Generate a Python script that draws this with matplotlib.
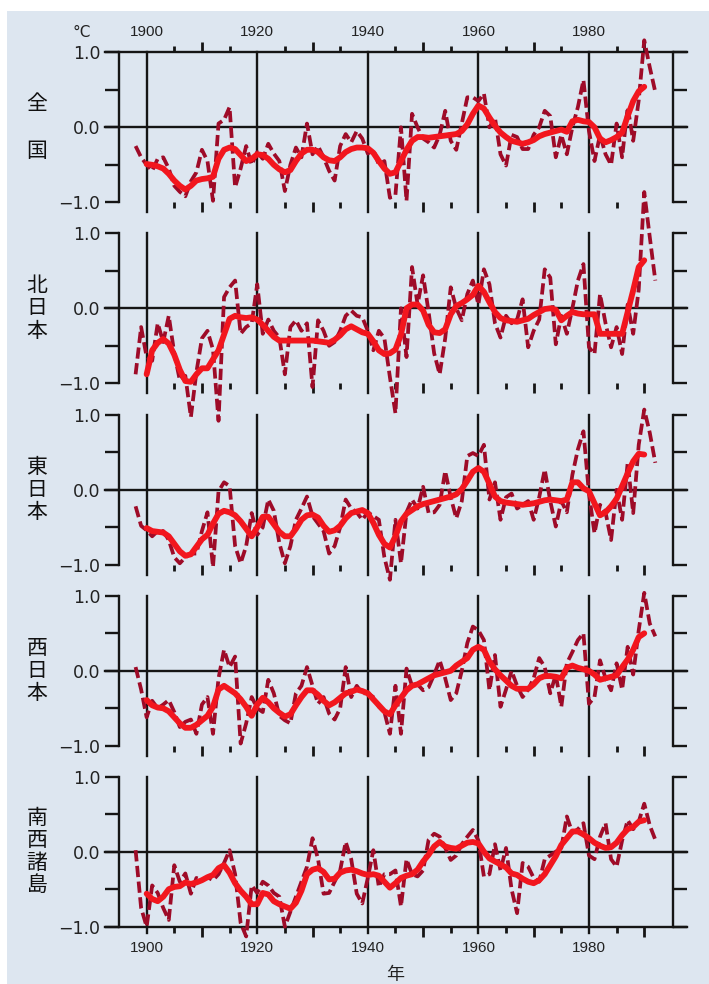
import numpy as np
import matplotlib
matplotlib.use("Agg")
import matplotlib.pyplot as plt
from matplotlib.patches import Rectangle
from matplotlib.ticker import FixedLocator, NullFormatter

# years
years_annual = np.arange(1898, 1993)
years_smooth = np.arange(1900, 1991)

# 全国
zenkoku_annual = [-0.25, -0.40, -0.50, -0.58, -0.42, -0.40, -0.55, -0.78, -0.86, -0.92,
                  -0.72, -0.60, -0.30, -0.45, -0.98, 0.05, 0.10, 0.27, -0.80, -0.55,
                  -0.25, -0.50, -0.33, -0.42, -0.22, -0.35, -0.45, -0.85, -0.50, -0.27,
                  -0.40, 0.05, -0.36, -0.25, -0.40, -0.58, -0.71, -0.25, -0.09, -0.20,
                  -0.05, -0.15, -0.35, -0.30, -0.50, -0.45, -0.94, -0.90, 0.00, -0.98,
                  0.18, 0.00, -0.15, -0.20, -0.27, -0.10, 0.22, -0.18, -0.30, 0.05,
                  0.40, 0.40, 0.35, 0.45, 0.00, 0.13, -0.36, -0.51, -0.10, -0.13,
                  -0.29, -0.29, -0.10, 0.00, 0.22, 0.15, -0.40, -0.10, -0.36, 0.00,
                  0.27, 0.63, -0.05, -0.45, -0.10, -0.36, -0.50, 0.05, -0.40, 0.27,
                  -0.18, 0.36, 1.16, 0.80, 0.47]
zenkoku_smooth = [-0.49, -0.50, -0.52, -0.55, -0.62, -0.71, -0.78, -0.83, -0.78, -0.71,
                  -0.69, -0.68, -0.66, -0.42, -0.30, -0.27, -0.29, -0.37, -0.45, -0.42,
                  -0.36, -0.37, -0.42, -0.50, -0.56, -0.60, -0.57, -0.45, -0.35, -0.30,
                  -0.30, -0.33, -0.40, -0.44, -0.45, -0.40, -0.33, -0.29, -0.27, -0.27,
                  -0.28, -0.34, -0.45, -0.55, -0.62, -0.60, -0.45, -0.30, -0.18, -0.13,
                  -0.13, -0.14, -0.13, -0.12, -0.11, -0.10, -0.09, -0.05, 0.04, 0.18,
                  0.29, 0.25, 0.13, 0.02, -0.07, -0.13, -0.18, -0.20, -0.22, -0.20,
                  -0.17, -0.12, -0.09, -0.07, -0.05, -0.03, -0.06, 0.08, 0.10, 0.08,
                  0.07, 0.00, -0.15, -0.20, -0.17, -0.13, -0.07, 0.15, 0.35, 0.48,
                  0.54]

# 北日本
kita_annual = [-0.88, -0.25, -0.65, -0.70, -0.20, -0.45, -0.10, -0.60, -0.96, -0.90,
               -1.45, -0.85, -0.40, -0.30, -0.55, -1.50, 0.15, 0.28, 0.37, -0.34,
               -0.25, -0.20, 0.32, -0.34, -0.15, -0.30, -0.39, -0.88, -0.25, -0.16,
               -0.30, -0.20, -1.05, -0.16, -0.30, -0.50, -0.45, -0.30, -0.10, -0.03,
               -0.10, -0.12, -0.30, -0.56, -0.30, -0.40, -0.92, -1.40, 0.00, -0.65,
               0.55, 0.05, 0.44, -0.05, -0.60, -0.88, -0.40, 0.28, 0.00, -0.16,
               0.19, 0.37, 0.05, 0.52, 0.32, -0.20, -0.39, -0.10, -0.20, -0.15,
               0.12, -0.52, -0.30, -0.15, 0.52, 0.41, -0.48, -0.10, -0.34, 0.00,
               0.37, 0.59, -0.52, -0.61, 0.19, -0.20, -0.52, -0.25, -0.61, 0.05,
               -0.34, 0.25, 1.55, 0.95, 0.37]
kita_smooth = [-0.88, -0.56, -0.46, -0.41, -0.47, -0.62, -0.82, -0.97, -0.98, -0.88,
               -0.80, -0.80, -0.68, -0.56, -0.35, -0.14, -0.10, -0.12, -0.13, -0.12,
               -0.15, -0.22, -0.30, -0.38, -0.43, -0.43, -0.43, -0.43, -0.43, -0.43,
               -0.43, -0.44, -0.45, -0.46, -0.42, -0.36, -0.28, -0.24, -0.28, -0.32,
               -0.34, -0.44, -0.56, -0.61, -0.60, -0.55, -0.35, 0.00, 0.05, 0.05,
               -0.03, -0.22, -0.32, -0.33, -0.28, -0.08, 0.03, 0.07, 0.12, 0.18,
               0.30, 0.22, 0.08, -0.05, -0.13, -0.16, -0.17, -0.18, -0.16, -0.14,
               -0.09, -0.05, -0.01, 0.00, -0.02, -0.16, -0.10, -0.05, -0.07, -0.08,
               -0.08, -0.08, -0.34, -0.34, -0.34, -0.34, -0.34, -0.05, 0.24, 0.55,
               0.64]

# 東日本
higashi_annual = [-0.22, -0.48, -0.54, -0.62, -0.55, -0.55, -0.67, -0.90, -0.98, -0.90,
                  -0.85, -0.85, -0.55, -0.30, -1.03, -0.02, 0.10, 0.05, -0.75, -0.98,
                  -0.75, -0.31, -0.60, -0.50, -0.13, -0.28, -0.71, -0.98, -0.75, -0.40,
                  -0.25, -0.09, -0.35, -0.45, -0.55, -0.85, -0.75, -0.50, -0.13, -0.25,
                  -0.30, -0.40, -0.30, -0.35, -0.40, -0.90, -1.20, -0.40, -0.98, -0.30,
                  -0.13, -0.25, 0.04, -0.31, -0.30, -0.20, 0.25, -0.10, -0.38, -0.15,
                  0.45, 0.49, 0.45, 0.60, -0.13, 0.10, -0.40, -0.10, -0.05, -0.25,
                  -0.20, -0.15, -0.40, -0.10, 0.27, -0.15, -0.49, -0.15, -0.30, 0.20,
                  0.54, 0.78, -0.05, -0.58, -0.20, -0.30, -0.67, 0.00, -0.40, 0.36,
                  -0.31, 0.60, 1.07, 0.76, 0.36]
higashi_smooth = [-0.51, -0.55, -0.56, -0.57, -0.62, -0.72, -0.82, -0.88, -0.86, -0.76,
                  -0.66, -0.60, -0.45, -0.32, -0.28, -0.30, -0.34, -0.42, -0.52, -0.62,
                  -0.50, -0.36, -0.36, -0.46, -0.56, -0.62, -0.62, -0.52, -0.40, -0.34,
                  -0.33, -0.37, -0.48, -0.56, -0.54, -0.48, -0.38, -0.31, -0.29, -0.27,
                  -0.31, -0.44, -0.60, -0.72, -0.77, -0.62, -0.42, -0.32, -0.27, -0.22,
                  -0.19, -0.17, -0.15, -0.13, -0.11, -0.09, -0.06, 0.01, 0.12, 0.24,
                  0.29, 0.24, 0.08, -0.09, -0.15, -0.17, -0.18, -0.19, -0.20, -0.19,
                  -0.18, -0.16, -0.14, -0.13, -0.14, -0.15, -0.13, 0.10, 0.10, 0.02,
                  -0.02, -0.18, -0.34, -0.30, -0.22, -0.12, 0.05, 0.22, 0.38, 0.48,
                  0.47]

# 西日本
nishi_annual = [0.05, -0.25, -0.62, -0.40, -0.50, -0.45, -0.39, -0.55, -0.75, -0.68,
                -0.65, -0.84, -0.45, -0.35, -0.84, -0.10, 0.28, 0.05, 0.19, -0.97,
                -0.70, -0.35, -0.50, -0.55, -0.12, -0.30, -0.60, -0.66, -0.70, -0.30,
                -0.20, 0.05, -0.20, -0.44, -0.35, -0.57, -0.65, -0.50, 0.05, -0.35,
                -0.20, -0.30, -0.30, -0.35, -0.48, -0.55, -0.84, -0.20, -0.84, 0.03,
                -0.20, -0.18, -0.26, -0.22, -0.05, 0.14, -0.10, -0.39, -0.30, 0.00,
                0.37, 0.59, 0.54, 0.41, -0.26, 0.21, -0.48, -0.25, 0.00, -0.20,
                -0.35, -0.25, -0.10, 0.17, 0.05, -0.30, -0.05, -0.48, 0.10, 0.25,
                0.41, 0.50, -0.44, -0.35, 0.14, -0.10, -0.26, 0.10, -0.25, 0.32,
                -0.05, 0.54, 1.04, 0.63, 0.46]
nishi_smooth = [-0.39, -0.46, -0.49, -0.50, -0.54, -0.62, -0.70, -0.76, -0.76, -0.72,
                -0.66, -0.60, -0.48, -0.25, -0.20, -0.25, -0.30, -0.38, -0.48, -0.60,
                -0.45, -0.36, -0.42, -0.50, -0.56, -0.61, -0.58, -0.46, -0.35, -0.26,
                -0.26, -0.32, -0.40, -0.46, -0.42, -0.36, -0.30, -0.28, -0.25, -0.27,
                -0.30, -0.38, -0.46, -0.54, -0.58, -0.46, -0.36, -0.26, -0.20, -0.18,
                -0.14, -0.10, -0.06, -0.04, -0.02, 0.00, 0.07, 0.12, 0.17, 0.28,
                0.32, 0.28, 0.12, 0.02, -0.06, -0.13, -0.20, -0.24, -0.24, -0.24,
                -0.18, -0.10, -0.07, -0.07, -0.08, -0.10, 0.04, 0.07, 0.04, 0.02,
                0.00, -0.05, -0.12, -0.10, -0.08, -0.06, 0.05, 0.15, 0.28, 0.45,
                0.50]

# 南西諸島
nansei_annual = [0.02, -0.75, -1.00, -0.45, -0.55, -0.75, -0.91, -0.18, -0.40, -0.29,
                 -0.56, -0.35, -0.38, -0.34, -0.38, -0.30, -0.15, 0.02, -0.30, -0.95,
                 -1.13, -0.45, -0.55, -0.40, -0.45, -0.55, -0.60, -1.00, -0.80, -0.60,
                 -0.40, -0.20, 0.18, -0.10, -0.56, -0.55, -0.40, -0.25, 0.13, -0.10,
                 -0.56, -0.69, -0.35, 0.02, -0.47, -0.30, -0.30, -0.25, -0.73, -0.10,
                 -0.30, -0.33, -0.25, 0.16, 0.24, 0.20, 0.05, -0.11, -0.05, 0.10,
                 0.20, 0.29, 0.15, -0.33, -0.30, 0.10, -0.25, 0.05, -0.50, -0.82,
                 -0.15, -0.20, -0.35, -0.40, -0.10, -0.05, 0.00, 0.05, 0.47, 0.25,
                 0.30, 0.38, -0.05, -0.10, 0.20, 0.38, -0.10, -0.20, 0.15, 0.42,
                 0.30, 0.40, 0.64, 0.35, 0.16]
nansei_smooth = [-0.56, -0.63, -0.66, -0.60, -0.50, -0.47, -0.46, -0.41, -0.43, -0.41,
                 -0.38, -0.34, -0.31, -0.22, -0.18, -0.28, -0.42, -0.52, -0.60, -0.70,
                 -0.70, -0.55, -0.57, -0.66, -0.70, -0.73, -0.76, -0.68, -0.52, -0.30,
                 -0.24, -0.22, -0.27, -0.37, -0.36, -0.28, -0.25, -0.24, -0.26, -0.29,
                 -0.31, -0.30, -0.32, -0.40, -0.48, -0.42, -0.35, -0.32, -0.30, -0.24,
                 -0.13, -0.04, 0.07, 0.13, 0.07, 0.05, 0.04, 0.08, 0.12, 0.13,
                 0.11, 0.00, -0.09, -0.13, -0.17, -0.21, -0.29, -0.31, -0.36, -0.40,
                 -0.42, -0.38, -0.30, -0.18, -0.06, 0.09, 0.18, 0.27, 0.27, 0.23,
                 0.18, 0.12, 0.08, 0.05, 0.06, 0.12, 0.22, 0.30, 0.33, 0.40,
                 0.42]

region_names = ["全国", "北日本", "東日本", "西日本", "南西諸島"]
annual_series = [zenkoku_annual, kita_annual, higashi_annual, nishi_annual, nansei_annual]
smooth_series = [zenkoku_smooth, kita_smooth, higashi_smooth, nishi_smooth, nansei_smooth]

label_years = [1900, 1920, 1940, 1960, 1980]
ten_year = [1910, 1930, 1950, 1970, 1990]
five_year = [1905, 1915, 1925, 1935, 1945, 1955, 1965, 1975, 1985]

BG = "#dde6f0"
INK = "#151515"
DASH = "#9e0b28"
RED = "#f2161e"
CJK = "Noto Sans CJK JP"

W, H = 709, 984
fig = plt.figure(figsize=(W / 100, H / 100), dpi=100)
fig.patch.set_facecolor("white")
fig.add_artist(Rectangle((7 / W, 0), 1 - 7 / W, 1 - 11 / H, transform=fig.transFigure,
                         facecolor=BG, edgecolor="none", zorder=0))

tops = [52.3, 233.3, 414.8, 595.8, 776.7]
ext = 14 / 554  # lines reaching past the spines

for i in range(5):
    ax = fig.add_axes([119 / W, 1 - (tops[i] + 150) / H, 554 / W, 150 / H])
    ax.set_facecolor("none")
    ax.set_xlim(1895, 1995.2)
    ax.set_ylim(-1, 1)
    ax.spines["top"].set_visible(False)
    ax.spines["bottom"].set_visible(False)
    for s in ["left", "right"]:
        ax.spines[s].set_linewidth(1.7)
        ax.spines[s].set_color(INK)

    ax.set_yticks([-1, -0.5, 0, 0.5, 1])
    ax.set_yticklabels(["\u22121.0", "", "0.0", "", "1.0"])
    ax.tick_params(axis="y", direction="out", length=10, width=1.7, color=INK,
                   left=True, right=True, labelleft=True, labelright=False,
                   labelsize=12.5, labelcolor="#222222", pad=3.5)

    ax.xaxis.set_major_locator(FixedLocator(ten_year))
    ax.xaxis.set_minor_locator(FixedLocator(five_year))
    ax.xaxis.set_major_formatter(NullFormatter())
    ax.xaxis.set_minor_formatter(NullFormatter())
    ax.tick_params(axis="x", which="major", direction="out", length=7, width=2,
                   color=INK, top=(i == 0), bottom=True)
    ax.tick_params(axis="x", which="minor", direction="out", length=4, width=2,
                   color=INK, top=(i == 0), bottom=True)

    # zero line and vertical year lines
    ax.plot([-ext, 1 + ext], [0, 0], transform=ax.get_yaxis_transform(),
            color=INK, lw=1.7, clip_on=False, zorder=2)
    low = -1.09 if i == 4 else -1.13
    for yr in label_years:
        ax.plot([yr, yr], [1.0, low], color=INK, lw=1.7, clip_on=False, zorder=2)
    if i == 0:
        ax.plot([-ext, 1 + ext], [1, 1], transform=ax.get_yaxis_transform(),
                color=INK, lw=1.7, clip_on=False, zorder=2)
        for yr in label_years:
            ax.text(yr, 1.27, str(yr), ha="center", va="center", fontsize=11,
                    family="Liberation Sans", color="#222222")
        ax.text(-0.067, 1.27, "°C", transform=ax.get_yaxis_transform(),
                ha="center", va="center", fontsize=11, family="DejaVu Sans", color="#222222")
    if i == 4:
        ax.plot([-ext, 1 + ext], [-1, -1], transform=ax.get_yaxis_transform(),
                color=INK, lw=1.7, clip_on=False, zorder=2)
        for yr in label_years:
            ax.text(yr, -1.285, str(yr), ha="center", va="center", fontsize=11,
                    family="Liberation Sans", color="#222222")
        ax.text(1945, -1.64, "年", ha="center", va="center", fontsize=13,
                family=CJK, color="#222222")

    # data
    ax.plot(years_annual, annual_series[i], color=DASH, lw=2.7, ls=(0, (3.0, 1.2)),
            clip_on=False, zorder=3)
    ax.plot(years_smooth, smooth_series[i], color=RED, lw=4.2, clip_on=False,
            solid_joinstyle="round", solid_capstyle="round", zorder=4)

    # region name, written vertically
    name = region_names[i]
    step = 47 if i == 0 else 22.5
    n = len(name)
    for k, ch in enumerate(name):
        yv = ((n - 1) / 2 - k) * step / 75
        ax.text(-0.148, yv, ch, transform=ax.get_yaxis_transform(), ha="center",
                va="center", fontsize=15, family=CJK, color="#111111")

fig.savefig("out.png", dpi=100, facecolor=fig.get_facecolor())
